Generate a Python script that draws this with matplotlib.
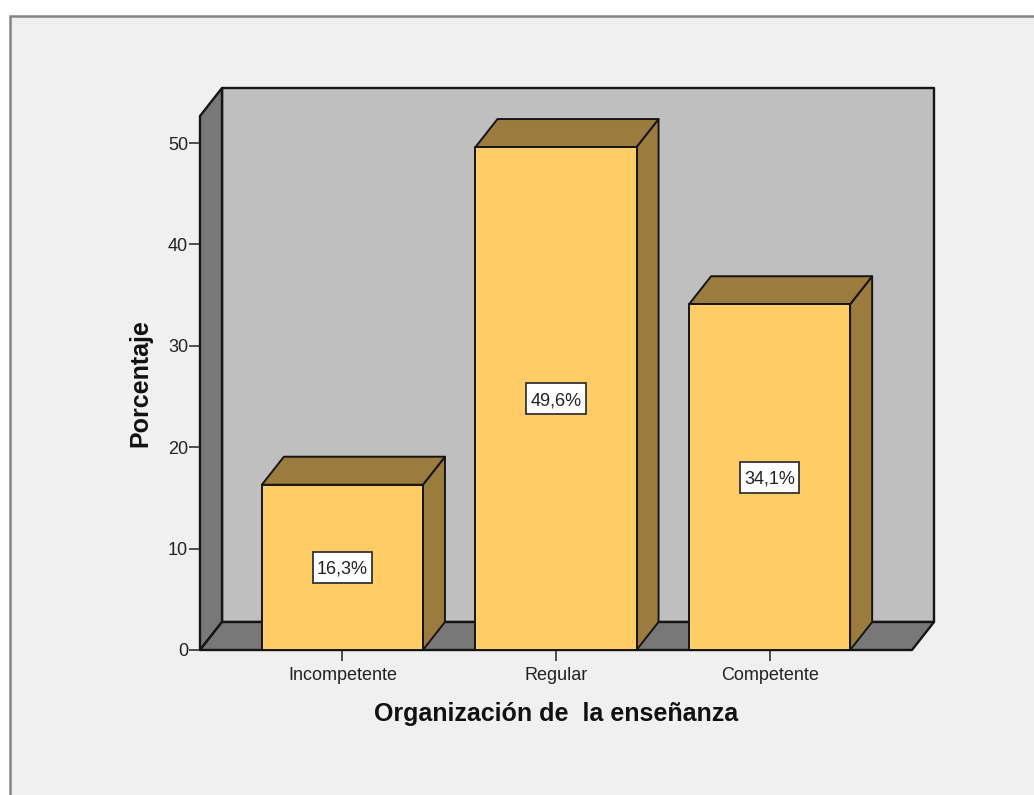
import matplotlib
matplotlib.use("Agg")
import matplotlib.pyplot as plt
from matplotlib.patches import Polygon, Rectangle

categories = ["Incompetente", "Regular", "Competente"]
values = [16.3, 49.6, 34.1]
labels = ["16,3%", "49,6%", "34,1%"]
yticks = [0, 10, 20, 30, 40, 50]

WIDTH, HEIGHT = 1034, 795
PX_X = 213.5  # pixels per category
PX_Y = 10.14  # pixels per percent
DX = 22 / PX_X  # 3d depth, in data units
DY = 28 / PX_Y
BAR_W = 161 / PX_X
YMAX = 534 / PX_Y
LEFT, RIGHT = -2 / 3, 8 / 3

EDGE = "#151515"
FRONT = "#ffcc66"
SHADE = "#9c7c3e"
WALL = "#bfbfbf"
SIDE = "#787878"

plt.rcParams["font.family"] = ["Liberation Sans", "DejaVu Sans"]


def face(ax, pts, color, z, lw=1.4):
    ax.add_patch(Polygon(pts, closed=True, facecolor=color, edgecolor=EDGE,
                         linewidth=lw, joinstyle="round", clip_on=False,
                         zorder=z))


fig = plt.figure(figsize=(WIDTH / 100, HEIGHT / 100), dpi=100, facecolor="white")
fig.add_artist(Rectangle((10 / WIDTH, -0.05), 1.1, 1.05 - 16 / HEIGHT,
                         transform=fig.transFigure, facecolor="#f0f0f0",
                         edgecolor="#858585", linewidth=1.8, zorder=-1))

ax = fig.add_axes([200 / WIDTH, 1 - 650 / HEIGHT, 712 / WIDTH, YMAX * PX_Y / HEIGHT])
ax.set_xlim(LEFT, RIGHT)
ax.set_ylim(0, YMAX)
ax.patch.set_visible(False)
for s in ax.spines.values():
    s.set_visible(False)

# walls and floor
face(ax, [(LEFT + DX, DY), (RIGHT + DX, DY), (RIGHT + DX, YMAX + DY), (LEFT + DX, YMAX + DY)], WALL, 1, 1.7)
face(ax, [(LEFT, 0), (LEFT + DX, DY), (LEFT + DX, YMAX + DY), (LEFT, YMAX)], SIDE, 1.1, 1.7)
face(ax, [(LEFT, 0), (RIGHT, 0), (RIGHT + DX, DY), (LEFT + DX, DY)], SIDE, 1.1, 1.7)

box_w = 59 / PX_X
box_h = 31 / PX_Y
for i, v in enumerate(values):
    x0, x1 = i - BAR_W / 2, i + BAR_W / 2
    face(ax, [(x1, 0), (x1 + DX, DY), (x1 + DX, v + DY), (x1, v)], SHADE, 2)
    face(ax, [(x0, v), (x1, v), (x1 + DX, v + DY), (x0 + DX, v + DY)], SHADE, 2)
    face(ax, [(x0, 0), (x1, 0), (x1, v), (x0, v)], FRONT, 3)
    ax.add_patch(Rectangle((i - box_w / 2, v / 2 - box_h / 2), box_w, box_h,
                           facecolor="white", edgecolor="#333333",
                           linewidth=1.3, zorder=4))
    ax.text(i, v / 2, labels[i], ha="center", va="center_baseline", fontsize=13,
            color="#222222", zorder=5)

ax.set_xticks(range(len(categories)))
ax.set_xticklabels(categories)
ax.set_yticks(yticks)
ax.tick_params(axis="both", length=8, width=1.1, color="#222222",
               labelsize=13, labelcolor="#222222")
ax.tick_params(axis="x", pad=4)
ax.tick_params(axis="y", pad=0.5)

ax.set_xlabel("Organización de  la enseñanza", fontsize=18, fontweight="bold",
              labelpad=13, color="#111111")
ax.set_ylabel("Porcentaje", fontsize=18, fontweight="bold", color="#111111")
ax.yaxis.set_label_coords(-48 / 712, 0.5)

fig.savefig("out.png", dpi=100)
